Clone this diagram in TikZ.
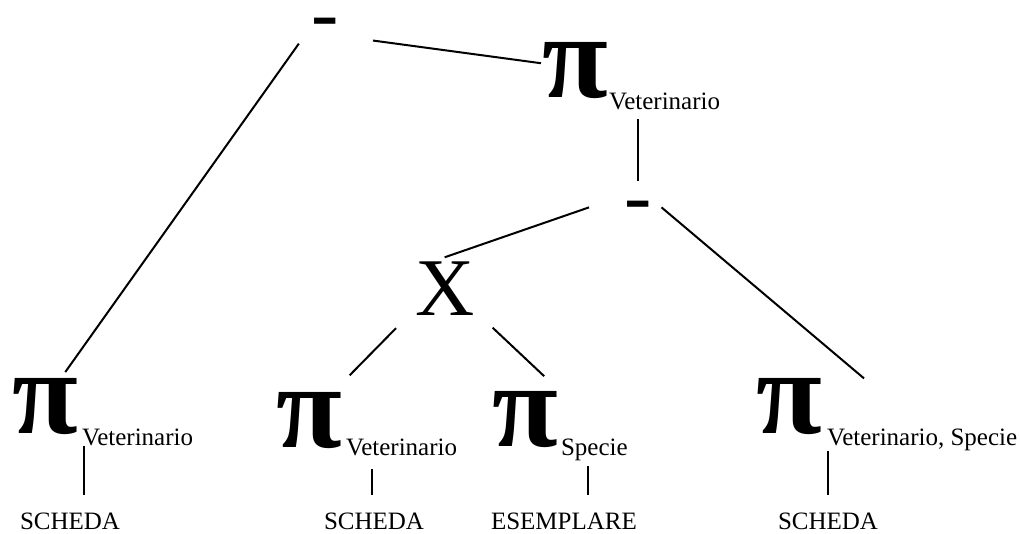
\documentclass[tikz,border=0pt]{standalone}
\usepackage{fontspec}
\setmainfont{Liberation Serif}
\usetikzlibrary{calc}
\tikzset{
    optree/.style={x=0.5pt, y=-0.5pt, line width=1pt},
    op/.style={font=\fontsize{41}{41}\selectfont, inner sep=0pt, anchor=base west},
    proj/.style={font=\fontsize{60}{60}\selectfont\bfseries, inner sep=0pt, anchor=base west},
    attr/.style={font=\fontsize{12.5}{12.5}\selectfont, inner sep=0pt, anchor=base west},
    rel/.style={font=\fontsize{12.5}{12.5}\selectfont, inner sep=0pt, anchor=base west},
}
\begin{document}
\begin{tikzpicture}[optree]
    \useasboundingbox (0,0) rectangle (1020,534);
    \node[op]   (diffTop)  at (310,41)  {-};
    \node[proj] (projTop)  at (541,98)  {π};
    \node[attr] (attrTop)  at (608,110) {Veterinario};
    \node[op]   (diffMid)  at (623,223) {-};
    \node[op]   (cross)    at (414,315) {X};

    \node[proj] (projA) at (11,433)  {π};
    \node[attr] (attrA) at (81,445)  {Veterinario};
    \node[rel]  (relA)  at (19,529)  {SCHEDA};

    \node[proj] (projB) at (275,447) {π};
    \node[attr] (attrB) at (345,455) {Veterinario};
    \node[rel]  (relB)  at (323,529) {SCHEDA};

    \node[proj] (projC) at (491,446) {π};
    \node[attr] (attrC) at (560,455) {Specie};
    \node[rel]  (relC)  at (490,529) {ESEMPLARE};

    \node[proj] (projD) at (755,433) {π};
    \node[attr] (attrD) at (826,445) {Veterinario, Specie};
    \node[rel]  (relD)  at (777,529) {SCHEDA};

    % difference at the root
    \draw[shorten <=1pt, shorten >=3pt] ([xshift=-5pt]diffTop.south west) -- ($(projA.north)!0.5!(projA.north east)$);
    \draw[shorten <=17pt] ([yshift=3pt]diffTop.south east) -- (projTop.167);
    \draw[shorten <=4pt, shorten >=9.5pt] (diffMid |- attrTop.south) -- (diffMid.north);

    % inner difference
    \draw[shorten <=18pt] ([yshift=2pt]diffMid.north west) -- ([yshift=1.5pt]cross.north);
    \draw[shorten <=6pt, shorten >=38pt] (diffMid.north east) -- (attrD.north);

    % product
    \draw[shorten <=8.5pt, shorten >=11pt] ([xshift=-3pt]cross.south west) -- ($(projB.north)!0.75!(projB.north east)$);
    \draw[shorten <=8.5pt, shorten >=10pt] ([xshift=2.5pt]cross.south east) -- (projC.north east);

    % relations
    \draw[shorten <=0pt, shorten >=8pt] ([xshift=1.5pt]attrA.south west) -- ([xshift=1.5pt]attrA.south west |- relA.north);
    \draw[shorten <=6.5pt, shorten >=8pt] ([xshift=-1pt]relB.north |- attrB.south) -- ([xshift=-1pt]relB.north);
    \draw[shorten <=2.5pt, shorten >=8pt] ([xshift=14pt]attrC.south west) -- ([xshift=14pt]attrC.south west |- relC.north);
    \draw[shorten <=0pt, shorten >=8pt] (relD.north |- attrD.south) -- (relD.north);
\end{tikzpicture}
\end{document}
